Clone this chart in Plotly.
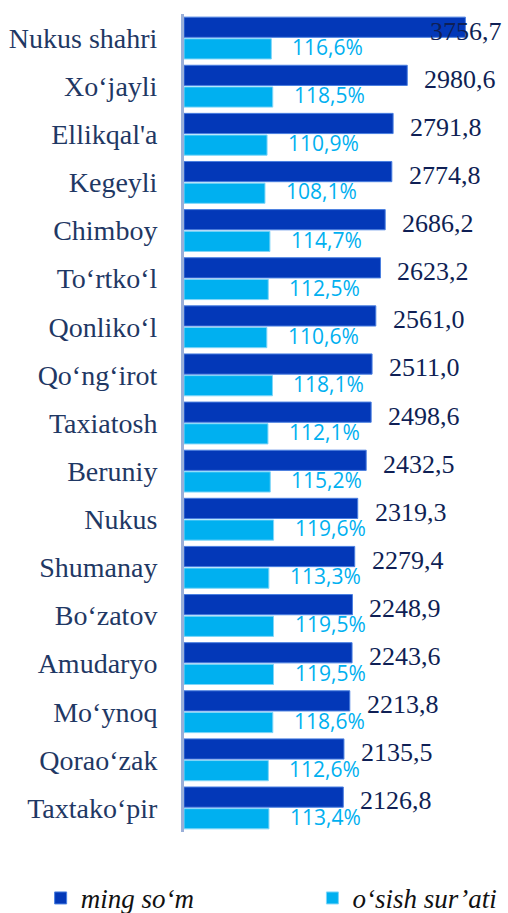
import plotly.graph_objects as go

categories = ["Nukus shahri", "Xo‘jayli", "Ellikqal'a", "Kegeyli", "Chimboy", "To‘rtko‘l",
              "Qonliko‘l", "Qo‘ng‘irot", "Taxiatosh", "Beruniy", "Nukus", "Shumanay",
              "Bo‘zatov", "Amudaryo", "Mo‘ynoq", "Qorao‘zak", "Taxtako‘pir"]
ming_som = [3756.7, 2980.6, 2791.8, 2774.8, 2686.2, 2623.2, 2561.0, 2511.0, 2498.6,
            2432.5, 2319.3, 2279.4, 2248.9, 2243.6, 2213.8, 2135.5, 2126.8]
osish = [116.6, 118.5, 110.9, 108.1, 114.7, 112.5, 110.6, 118.1, 112.1,
         115.2, 119.6, 113.3, 119.5, 119.5, 118.6, 112.6, 113.4]
series_names = ["ming so‘m", "o‘sish sur’ati"]

W, H = 508, 913
ML, MR, MT, MB = 184, 4, 14, 81
plot_w = W - ML - MR
px_per_unit = 0.0749
xmax = plot_w / px_per_unit
xmax2 = xmax / 10

DARK = "#0338B8"
LIGHT = "#00B0F0"

def fmt(v, pct=False):
    s = f"{v:.1f}".replace(".", ",")
    return s + "%" if pct else s

fig = go.Figure()
fig.add_trace(go.Bar(
    x=ming_som, y=categories, orientation="h", name=series_names[0],
    marker=dict(color=DARK, line=dict(color="#4A7FE0", width=1)),
    width=0.42, offset=-0.435, xaxis="x", yaxis="y", legend="legend",
))
fig.add_trace(go.Bar(
    x=osish, y=categories, orientation="h", name=series_names[1],
    marker=dict(color=LIGHT, line=dict(color="#7FD6F8", width=1)),
    width=0.42, offset=0.015, xaxis="x2", yaxis="y", legend="legend2",
))

annotations = []
label_w_px = 74
for c, v in zip(categories, ming_som):
    end_px = v * px_per_unit + 16
    if end_px + label_w_px > plot_w:
        annotations.append(dict(x=xmax, y=c, xref="x", yref="y", text=fmt(v),
                                xanchor="right", yanchor="middle", showarrow=False, yshift=7,
                                font=dict(family="Liberation Serif", size=26, color="#0F1F55")))
    else:
        annotations.append(dict(x=v, y=c, xref="x", yref="y", text=fmt(v),
                                xanchor="left", yanchor="middle", showarrow=False,
                                xshift=15, yshift=7,
                                font=dict(family="Liberation Serif", size=26, color="#0F1F55")))
for c, v in zip(categories, osish):
    annotations.append(dict(x=v, y=c, xref="x2", yref="y", text=fmt(v, True),
                            xanchor="left", yanchor="middle", showarrow=False,
                            xshift=19, yshift=-9,
                            font=dict(family="Open Sans", size=21, color=LIGHT)))

legend_font = dict(family="Liberation Serif", size=27, color="#111111", style="italic")
fig.update_layout(
    width=W, height=H,
    margin=dict(l=ML, r=MR, t=MT, b=MB),
    paper_bgcolor="white", plot_bgcolor="white",
    barmode="overlay",
    xaxis=dict(range=[0, xmax], visible=False, fixedrange=True),
    xaxis2=dict(range=[0, xmax2], overlaying="x", visible=False, fixedrange=True),
    yaxis=dict(
        type="category", range=[len(categories) - 0.5, -0.5],
        showline=True, linecolor="#9AAFD8", linewidth=3, fixedrange=True,
        showgrid=False, zeroline=False, ticks="", ticklabelstandoff=18,
        tickfont=dict(family="Liberation Serif", size=28, color="#1F3864"),
    ),
    showlegend=True,
    legend=dict(
        orientation="h", xref="container", yref="container",
        x=0.08, y=0.016, xanchor="left", yanchor="middle",
        font=legend_font, bgcolor="rgba(0,0,0,0)",
    ),
    legend2=dict(
        orientation="h", xref="container", yref="container",
        x=0.615, y=0.016, xanchor="left", yanchor="middle",
        font=legend_font, bgcolor="rgba(0,0,0,0)",
    ),
    annotations=annotations,
)

fig.write_html("out.html", config={"displayModeBar": False},
               post_script="document.body.style.margin='0px';")
